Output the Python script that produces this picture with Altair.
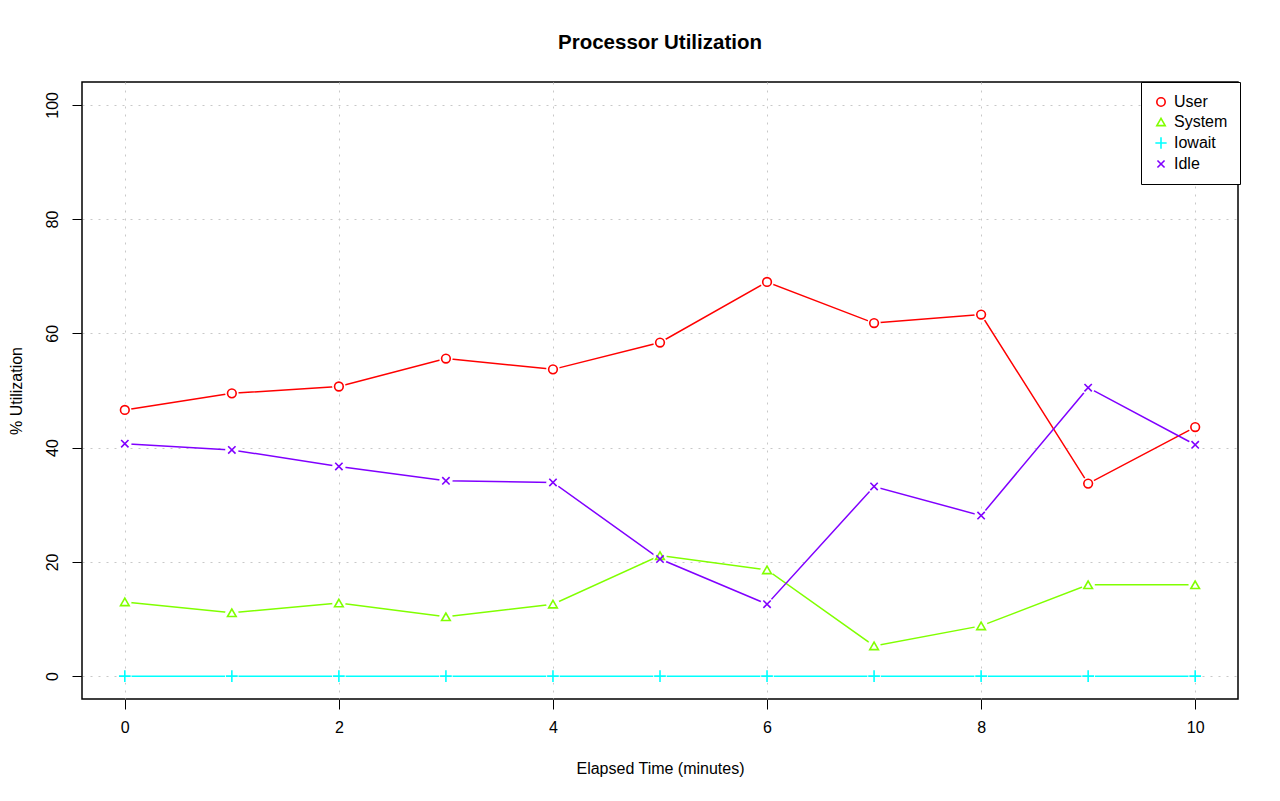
import altair as alt
import pandas as pd

times = [0, 1, 2, 3, 4, 5, 6, 7, 8, 9, 10]
series_names = ["User", "System", "Iowait", "Idle"]
user = [46.6, 49.5, 50.7, 55.6, 53.7, 58.4, 69.0, 61.8, 63.3, 33.7, 43.6]
system = [13.0, 11.1, 12.8, 10.4, 12.6, 21.1, 18.6, 5.3, 8.8, 16.0, 16.0]
iowait = [0, 0, 0, 0, 0, 0, 0, 0, 0, 0, 0]
idle = [40.7, 39.6, 36.7, 34.2, 33.9, 20.5, 12.6, 33.2, 28.1, 50.5, 40.5]
colors = ["#FF0000", "#80FF00", "#00FFFF", "#8000FF"]
shapes = [
    "circle",
    "triangle-up",
    "M-1.35,0L1.35,0M0,-1.35L0,1.35",
    "M-0.85,-0.85L0.85,0.85M-0.85,0.85L0.85,-0.85",
]

rows = []
for name, vals in zip(series_names, [user, system, iowait, idle]):
    for t, v in zip(times, vals):
        rows.append({"time": t, "value": v, "series": name})
df = pd.DataFrame(rows)

FONT = "Liberation Sans"
FS = 16

common_axis = dict(
    grid=True,
    gridColor="#C8C8C8",
    gridDash=[2, 6],
    gridWidth=1,
    domain=False,
    tickColor="black",
    tickSize=10,
    tickWidth=1,
    labelFontSize=FS,
    titleFontSize=FS,
    labelColor="black",
    titleColor="black",
    titleFontWeight="normal",
    labelFont=FONT,
    titleFont=FONT,
)

x = alt.X(
    "time:Q",
    scale=alt.Scale(domain=[-0.4, 10.4], nice=False, zero=False),
    axis=alt.Axis(
        values=[0, 2, 4, 6, 8, 10],
        title="Elapsed Time (minutes)",
        labelPadding=10,
        titlePadding=25,
        **common_axis,
    ),
)
y = alt.Y(
    "value:Q",
    scale=alt.Scale(domain=[-4, 104], nice=False, zero=False),
    axis=alt.Axis(
        values=[0, 20, 40, 60, 80, 100],
        title="% Utilization",
        labelAngle=-90,
        labelPadding=12,
        titlePadding=20,
        **common_axis,
    ),
)
color = alt.Color(
    "series:N",
    scale=alt.Scale(domain=series_names, range=colors),
    sort=series_names,
    title=None,
    legend=alt.Legend(
        orient="none",
        legendX=1059,
        legendY=0,
        strokeColor="black",
        fillColor="white",
        padding=12,
        rowPadding=4,
        labelFontSize=FS,
        labelFont=FONT,
        labelColor="black",
        labelOffset=5,
        symbolStrokeWidth=1.6,
        symbolSize=70,
    ),
)
shape = alt.Shape(
    "series:N",
    scale=alt.Scale(domain=series_names, range=shapes),
    sort=series_names,
    title=None,
)

base = alt.Chart(df)
lines = base.mark_line(strokeWidth=1.5).encode(x=x, y=y, color=color)
halos = base.mark_point(filled=True, size=180, opacity=1, color="white", strokeWidth=0).encode(
    x=x, y=y
)
points = base.mark_point(filled=False, strokeWidth=1.6, size=75, opacity=1).encode(
    x=x, y=y, color=color, shape=shape
)

chart = (
    alt.layer(lines, halos, points)
    .properties(
        width=1156,
        height=617,
        background="white",
        title=alt.TitleParams(
            "Processor Utilization",
            font=FONT,
            fontSize=20.5,
            fontWeight="bold",
            color="black",
            anchor="middle",
            offset=28,
        ),
        autosize=alt.AutoSizeParams(type="none"),
        padding={"left": 74, "top": 74, "right": 30, "bottom": 80},
    )
    .configure_view(stroke="black", strokeWidth=1.5)
)

chart.save("out.html", embed_options={"renderer": "svg", "actions": False})
